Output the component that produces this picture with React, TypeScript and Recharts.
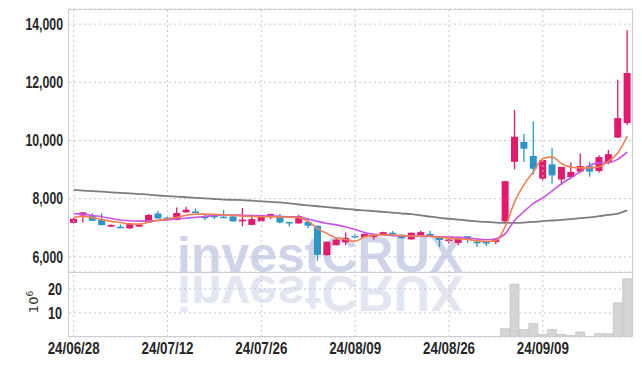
import React from "react";
import {
  Bar,
  CartesianGrid,
  ComposedChart,
  Line,
  ReferenceLine,
  XAxis,
  YAxis,
} from "recharts";

const dates = [
  "24/06/28", "24/07/01", "24/07/02", "24/07/03", "24/07/04", "24/07/05", "24/07/08", "24/07/09", "24/07/10", "24/07/11",
  "24/07/12", "24/07/15", "24/07/16", "24/07/17", "24/07/18", "24/07/19", "24/07/22", "24/07/23", "24/07/24", "24/07/25",
  "24/07/26", "24/07/29", "24/07/30", "24/07/31", "24/08/01", "24/08/02", "24/08/05", "24/08/06", "24/08/07", "24/08/08",
  "24/08/09", "24/08/12", "24/08/13", "24/08/14", "24/08/16", "24/08/19", "24/08/20", "24/08/21", "24/08/22", "24/08/23",
  "24/08/26", "24/08/27", "24/08/28", "24/08/29", "24/08/30", "24/09/02", "24/09/03", "24/09/04", "24/09/05", "24/09/06",
  "24/09/09", "24/09/10", "24/09/11", "24/09/12", "24/09/13", "24/09/19", "24/09/20", "24/09/23", "24/09/24", "24/09/25",
];

const opens = [
  7170, 7420, 7410, 7275, 7040, 7035, 6980, 7040, 7180, 7490,
  7350, 7270, 7530, 7560, 7380, 7410, 7380, 7390, 7220, 7100,
  7220, 7390, 7410, 7200, 7150, 7200, 7070, 6060, 6400, 6500,
  6720, 6680, 6680, 6770, 6830, 6760, 6600, 6750, 6790, 6690,
  6540, 6480, 6710, 6520, 6510, 6510, 7220, 9270, 9950, 9470,
  8690, 9180, 8660, 8740, 8930, 9120, 8950, 9260, 10100, 10600,
];
const closes = [
  7310, 7530, 7240, 7090, 7100, 6985, 7150, 7100, 7440, 7320,
  7290, 7510, 7620, 7530, 7350, 7380, 7350, 7220, 7280, 7300,
  7440, 7470, 7180, 7160, 7400, 7070, 6070, 6520, 6590, 6650,
  6700, 6790, 6770, 6850, 6780, 6640, 6830, 6850, 6710, 6580,
  6600, 6630, 6600, 6490, 6490, 6610, 8600, 10130, 9720, 9030,
  9330, 8800, 9090, 8920, 9120, 8930, 9430, 9530, 10770, 12320,
];
const highs = [
  7340, 7540, 7500, 7500, 7110, 7110, 7160, 7110, 7470, 7580,
  7390, 7700, 7720, 7660, 7460, 7470, 7610, 7400, 7680, 7450,
  7450, 7490, 7470, 7210, 7440, 7300, 7080, 6530, 6640, 6840,
  6790, 6800, 6780, 6860, 6890, 6770, 6840, 6900, 6900, 6700,
  6610, 6640, 6720, 6530, 6520, 6620, 8620, 11050, 10220, 10650,
  9340, 9730, 9100, 9240, 9550, 9270, 9490, 9670, 12090, 13790,
];
const lows = [
  7150, 7180, 7230, 7090, 7030, 6980, 6955, 7030, 7170, 7320,
  7280, 7260, 7520, 7510, 7270, 7300, 7340, 7210, 7050, 7090,
  7210, 7300, 7150, 7040, 7140, 6980, 5870, 6050, 6390, 6400,
  6630, 6670, 6600, 6760, 6720, 6630, 6590, 6740, 6700, 6340,
  6460, 6400, 6480, 6340, 6370, 6440, 7160, 9010, 9260, 8830,
  8630, 8510, 8470, 8730, 8890, 8750, 8890, 9180, 10090, 10530,
];

// volume, millions of shares
const volumes = [
  0.12, 0.15, 0.1, 0.09, 0.06, 0.05, 0.07, 0.05, 0.13, 0.11,
  0.07, 0.16, 0.14, 0.08, 0.09, 0.06, 0.08, 0.07, 0.12, 0.09,
  0.1, 0.06, 0.08, 0.07, 0.1, 0.11, 0.2, 0.18, 0.13, 0.12,
  0.06, 0.07, 0.06, 0.05, 0.07, 0.06, 0.08, 0.06, 0.05, 0.09,
  0.06, 0.07, 0.06, 0.08, 0.06, 0.09, 3.4, 22.0, 3.1, 5.6,
  1.1, 3.1, 1.1, 0.6, 2.1, 0.3, 1.4, 1.4, 14.2, 24.2,
];

const ma5 = [
  7360, 7390, 7350, 7280, 7220, 7180, 7130, 7125, 7190, 7260,
  7300, 7360, 7430, 7470, 7470, 7460, 7450, 7420, 7400, 7390,
  7380, 7380, 7370, 7360, 7350, 7220, 6970, 6800, 6650, 6600,
  6540, 6690, 6740, 6770, 6760, 6730, 6720, 6720, 6710, 6670,
  6650, 6620, 6600, 6550, 6530, 6560, 7050, 7900, 8490, 8930,
  9380, 9430, 9200, 9080, 9060, 9060, 9100, 9280, 9580, 10150,
];
const ma20 = [
  7480, 7470, 7420, 7380, 7320, 7270, 7240, 7230, 7240, 7250,
  7270, 7310, 7330, 7360, 7390, 7420, 7440, 7440, 7430, 7420,
  7410, 7400, 7390, 7380, 7370, 7300, 7220, 7150, 7100, 7030,
  6940, 6840, 6780, 6750, 6730, 6720, 6710, 6710, 6700, 6690,
  6680, 6670, 6650, 6610, 6590, 6620, 6800, 7260, 7560, 7840,
  8030, 8270, 8520, 8720, 8930, 9150, 9230, 9240, 9360, 9610,
];
const ma120 = [
  8300, 8280, 8260, 8240, 8220, 8200, 8180, 8160, 8140, 8110,
  8090, 8070, 8050, 8030, 8010, 7990, 7970, 7960, 7950, 7930,
  7910, 7890, 7870, 7840, 7800, 7770, 7740, 7710, 7680, 7650,
  7620, 7600, 7570, 7550, 7520, 7490, 7470, 7430, 7380, 7340,
  7310, 7280, 7250, 7220, 7200, 7180, 7170, 7170, 7180, 7200,
  7230, 7250, 7270, 7300, 7330, 7360, 7400, 7440, 7490, 7600,
];

const tickDates = ["24/06/28", "24/07/12", "24/07/26", "24/08/09", "24/08/26", "24/09/09"];
const priceTicks = [6000, 8000, 10000, 12000, 14000];
const volumeTicks = [10, 20];

const rows = dates.map((date, i) => ({
  date,
  open: opens[i],
  close: closes[i],
  high: highs[i],
  low: lows[i],
  range: [lows[i], highs[i]],
  vol: volumes[i],
  ma5: ma5[i],
  ma20: ma20[i],
  ma120: ma120[i],
}));

const UP = "#e3196d";
const DOWN = "#2b95c9";
const GRID = "#c3c7dc";
const LABEL_FONT = "'Liberation Sans', Arial, sans-serif";

// the reference uses a condensed face; squeeze the regular one to the same width
function squeezedWidth(s: string) {
  let w = 0;
  for (const ch of s) w += ch === "," ? 2.6 : ch === "/" ? 5 : 7;
  return w;
}

function Candle(props: any) {
  const { x, y, width, height, payload } = props;
  const top = Math.min(y, y + height);
  const h = Math.abs(height);
  const span = payload.high - payload.low || 1;
  const py = (v: number) => top + ((payload.high - v) / span) * h;
  const color = payload.close >= payload.open ? UP : DOWN;
  const cx = x + width / 2;
  const bodyTop = py(Math.max(payload.open, payload.close));
  const bodyH = Math.max(1.5, py(Math.min(payload.open, payload.close)) - bodyTop);
  return (
    <g>
      <line x1={cx} x2={cx} y1={top} y2={top + h} stroke={color} strokeWidth={1.3} />
      <rect x={x} y={bodyTop} width={width} height={bodyH} fill={color} />
    </g>
  );
}

function YTick(props: any) {
  const { x, y, payload } = props;
  const label = Number(payload.value).toLocaleString("en-US");
  return (
    <text
      x={x}
      y={y}
      dy="0.36em"
      textAnchor="end"
      fill="#262626"
      fontSize={16}
      fontWeight="bold"
      fontFamily={LABEL_FONT}
      textLength={squeezedWidth(label)}
      lengthAdjust="spacingAndGlyphs"
    >
      {label}
    </text>
  );
}

function XTick(props: any) {
  const { x, y, payload } = props;
  return (
    <text
      x={x}
      y={y + 17}
      textAnchor="middle"
      fill="#262626"
      fontSize={16}
      fontWeight="bold"
      fontFamily={LABEL_FONT}
      textLength={squeezedWidth(payload.value)}
      lengthAdjust="spacingAndGlyphs"
    >
      {payload.value}
    </text>
  );
}

export default function App() {
  return (
    <div style={{ position: "absolute", left: 0, top: 0, width: 642, height: 366, background: "#fff" }}>
      <svg width={642} height={366} style={{ position: "absolute", left: 0, top: 0 }}>
        <text x={177} y={272} fill="#cfd4e8" fontSize={50} fontWeight="bold" fontFamily="'Liberation Sans', Arial, sans-serif">
          investCRUX
        </text>
        <text
          x={177}
          y={272}
          fill="#e3e6f1"
          fontSize={50}
          fontWeight="bold"
          fontFamily="'Liberation Sans', Arial, sans-serif"
          transform="translate(0 548) scale(1 -1)"
        >
          investCRUX
        </text>
      </svg>

      <div style={{ position: "absolute", left: 0, top: 0 }}>
        <ComposedChart width={642} height={272} data={rows} margin={{ top: 9, right: 10, bottom: 0, left: 9 }}>
          <CartesianGrid vertical={false} stroke={GRID} strokeDasharray="2 3" />
          {tickDates.map((d) => (
            <ReferenceLine key={d} x={d} stroke={GRID} strokeDasharray="2 3" />
          ))}
          <XAxis dataKey="date" hide />
          <YAxis
            width={60}
            domain={[5480, 14520]}
            ticks={priceTicks}
            allowDataOverflow
            axisLine={false}
            tickLine={false}
            tickSize={0}
            tickMargin={6}
            tick={<YTick />}
          />
          <Bar dataKey="range" barSize={7} shape={<Candle />} isAnimationActive={false} />
          <Line type="monotone" dataKey="ma120" stroke="#7d7d7d" strokeWidth={1.8} dot={false} isAnimationActive={false} />
          <Line type="monotone" dataKey="ma20" stroke="#c952e6" strokeWidth={1.6} dot={false} isAnimationActive={false} />
          <Line type="monotone" dataKey="ma5" stroke="#ef8250" strokeWidth={1.6} dot={false} isAnimationActive={false} />
        </ComposedChart>
      </div>

      <div style={{ position: "absolute", left: 0, top: 272 }}>
        <ComposedChart width={642} height={94} data={rows} margin={{ top: 0, right: 10, bottom: 0, left: 9 }}>
          <CartesianGrid vertical={false} stroke={GRID} strokeDasharray="2 3" />
          {tickDates.map((d) => (
            <ReferenceLine key={d} x={d} stroke={GRID} strokeDasharray="2 3" />
          ))}
          <XAxis
            dataKey="date"
            height={29}
            ticks={tickDates}
            interval={0}
            axisLine={false}
            tickLine={false}
            tickSize={0}
            tickMargin={0}
            tick={<XTick />}
          />
          <YAxis
            width={60}
            domain={[0, 27]}
            ticks={volumeTicks}
            allowDataOverflow
            axisLine={false}
            tickLine={false}
            tickSize={0}
            tickMargin={7}
            tick={<YTick />}
          />
          <Bar dataKey="vol" barSize={9} fill="#d5d5d8" stroke="#bdbdc2" strokeWidth={0.6} isAnimationActive={false} />
        </ComposedChart>
      </div>

      <svg width={642} height={366} style={{ position: "absolute", left: 0, top: 0, pointerEvents: "none" }}>
        <rect x={68.5} y={9.5} width={564} height={327} fill="none" stroke="#cdcdd3" />
        <line x1={68.5} x2={632.5} y1={272.5} y2={272.5} stroke="#cdcdd3" />
        <text
          transform="translate(38 302) rotate(-90)"
          textAnchor="middle"
          fill="#333"
          fontSize={13}
          fontFamily="'DejaVu Sans', sans-serif"
        >
          10
          <tspan dy={-5} fontSize={9}>6</tspan>
        </text>
      </svg>
    </div>
  );
}
